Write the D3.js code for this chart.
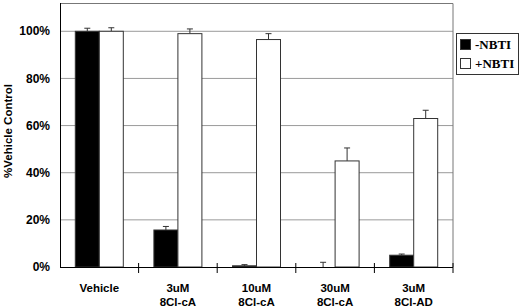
<!DOCTYPE html>
<html>
<head>
<meta charset="utf-8">
<script src="https://cdn.jsdelivr.net/npm/d3@7"></script>
<style>
  body { margin: 0; background: #fff; }
  svg { display: block; }
</style>
</head>
<body>
<div id="chart"></div>
<script>
// data
const categories = [["Vehicle"], ["3uM", "8Cl-cA"], ["10uM", "8Cl-cA"], ["30uM", "8Cl-cA"], ["3uM", "8Cl-AD"]];
const seriesNames = ["-NBTI", "+NBTI"];
const minusNBTI = [100, 15.7, 0.5, 0, 5];
const minusErr = [1.3, 1.5, 0.5, 2, 0.5];
const plusNBTI = [100, 99, 96.5, 45, 63];
const plusErr = [1.5, 2, 2.5, 5.5, 3.5];
const yTicks = [0, 20, 40, 60, 80, 100];

const width = 520, height = 308;
const margin = { top: 3, right: 67, bottom: 41, left: 60 };
const innerW = width - margin.left - margin.right;
const innerH = height - margin.top - margin.bottom;

const svg = d3.select("#chart").append("svg")
  .attr("width", width)
  .attr("height", height)
  .attr("font-family", "Arial, 'Liberation Sans', sans-serif");

const g = svg.append("g").attr("transform", `translate(${margin.left},${margin.top})`);

const x = d3.scaleBand().domain(d3.range(categories.length)).range([0, innerW]);
const xs = d3.scaleBand().domain([0, 1]).range([0, 48]);
const y = d3.scaleLinear().domain([0, 112]).range([innerH, 0]);

// gridlines
g.append("g")
  .selectAll("line")
  .data(yTicks.filter((d) => d > 0))
  .join("line")
  .attr("x1", 0)
  .attr("x2", innerW)
  .attr("y1", (d) => y(d))
  .attr("y2", (d) => y(d))
  .attr("stroke", "#9a9a9a")
  .attr("stroke-width", 1);

// frame top / right
g.append("path")
  .attr("d", `M0,0.5H${innerW}V${innerH}`)
  .attr("fill", "none")
  .attr("stroke", "#777")
  .attr("stroke-width", 1);

const rows = categories.map((c, i) => [
  { s: 0, i, v: minusNBTI[i], e: minusErr[i] },
  { s: 1, i, v: plusNBTI[i], e: plusErr[i] },
]).flat();

const gx = (d) => x(d.i) + (x.bandwidth() - 48) / 2 + xs(d.s);

// error bars (upward only)
const eb = g.append("g").attr("stroke", "#333").attr("stroke-width", 1);
eb.selectAll("line.v")
  .data(rows)
  .join("line")
  .attr("class", "v")
  .attr("x1", (d) => gx(d) + xs.bandwidth() / 2)
  .attr("x2", (d) => gx(d) + xs.bandwidth() / 2)
  .attr("y1", (d) => y(d.v))
  .attr("y2", (d) => y(d.v + d.e));
eb.selectAll("line.c")
  .data(rows)
  .join("line")
  .attr("class", "c")
  .attr("x1", (d) => gx(d) + xs.bandwidth() / 2 - 3)
  .attr("x2", (d) => gx(d) + xs.bandwidth() / 2 + 3)
  .attr("y1", (d) => y(d.v + d.e))
  .attr("y2", (d) => y(d.v + d.e));

// bars
g.append("g")
  .selectAll("rect")
  .data(rows.filter((d) => d.v > 0))
  .join("rect")
  .attr("x", (d) => gx(d))
  .attr("y", (d) => y(d.v))
  .attr("width", xs.bandwidth())
  .attr("height", (d) => innerH - y(d.v))
  .attr("fill", (d) => (d.s === 0 ? "#000" : "#fff"))
  .attr("stroke", "#333")
  .attr("stroke-width", 1);

// y axis
g.append("line")
  .attr("x1", 0.5).attr("x2", 0.5)
  .attr("y1", 0).attr("y2", innerH)
  .attr("stroke", "#000");
g.append("g")
  .selectAll("text")
  .data(yTicks)
  .join("text")
  .attr("x", -10)
  .attr("y", (d) => y(d))
  .attr("dy", "0.35em")
  .attr("text-anchor", "end")
  .attr("font-size", 12)
  .attr("font-weight", "bold")
  .text((d) => d + "%");

// x axis
g.append("line")
  .attr("x1", 0).attr("x2", innerW)
  .attr("y1", innerH + 0.5).attr("y2", innerH + 0.5)
  .attr("stroke", "#000");
g.append("g")
  .selectAll("line")
  .data(d3.range(1, categories.length + 1))
  .join("line")
  .attr("x1", (d) => x.step() * d)
  .attr("x2", (d) => x.step() * d)
  .attr("y1", innerH - 4)
  .attr("y2", innerH + 6)
  .attr("stroke", "#000");

const lab = g.append("g")
  .selectAll("text")
  .data(categories)
  .join("text")
  .attr("x", (d, i) => x(i) + x.bandwidth() / 2)
  .attr("y", innerH + 25)
  .attr("text-anchor", "middle")
  .attr("font-size", 11.5)
  .attr("font-weight", "bold");
lab.selectAll("tspan")
  .data((d) => d)
  .join("tspan")
  .attr("x", function () { return d3.select(this.parentNode).attr("x"); })
  .attr("dy", (d, i) => (i === 0 ? 0 : 14))
  .text((d) => d);

// y title
svg.append("text")
  .attr("transform", `translate(12,131) rotate(-90)`)
  .attr("text-anchor", "middle")
  .attr("font-size", 11.5)
  .attr("font-weight", "bold")
  .text("%Vehicle Control");

// legend
const leg = svg.append("g").attr("transform", "translate(456,33)");
leg.append("rect")
  .attr("x", 0.5).attr("y", 0.5)
  .attr("width", 62).attr("height", 41)
  .attr("fill", "#fff")
  .attr("stroke", "#333");
seriesNames.forEach((s, i) => {
  leg.append("rect")
    .attr("x", 4.5).attr("y", 6.5 + i * 19)
    .attr("width", 10).attr("height", 10)
    .attr("fill", i === 0 ? "#000" : "#fff")
    .attr("stroke", "#333");
  leg.append("text")
    .attr("x", 19).attr("y", 16 + i * 19)
    .attr("font-family", "'Liberation Serif', 'Times New Roman', serif")
    .attr("font-weight", "bold")
    .attr("font-size", 13)
    .text(s);
});
</script>
</body>
</html>
